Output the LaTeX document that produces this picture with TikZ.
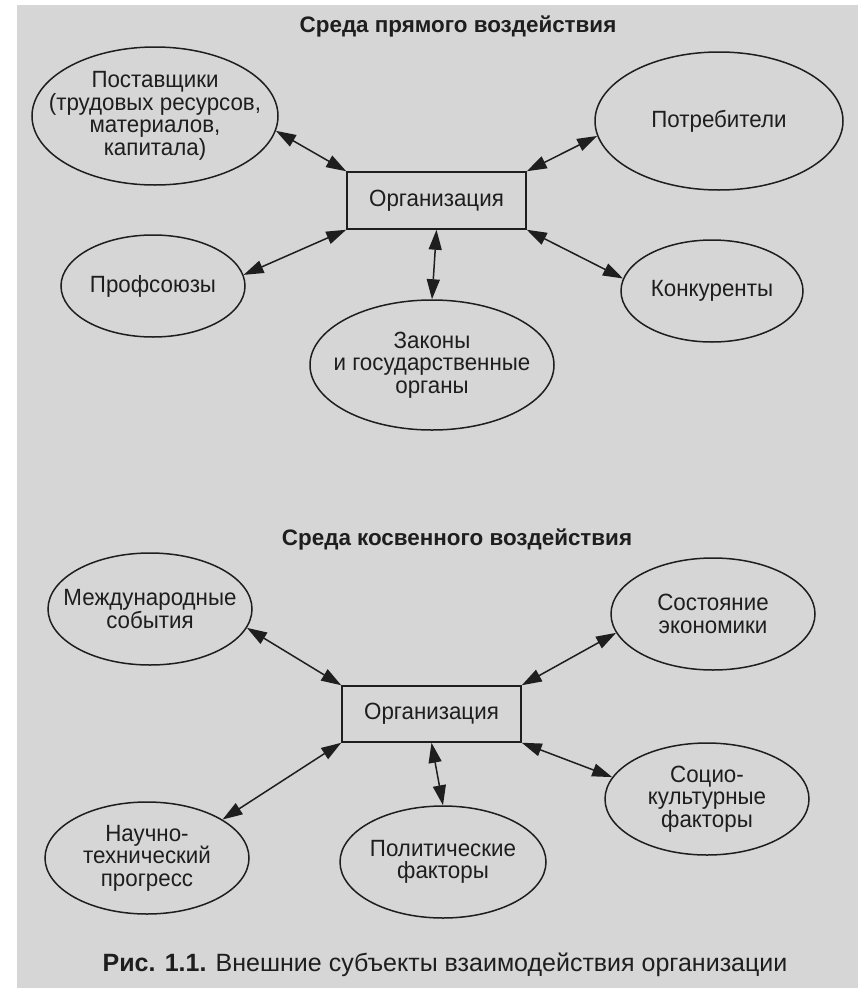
\documentclass[tikz,border=0pt]{standalone}
\usepackage{fontspec}
\setmainfont{Liberation Sans}
\newfontfamily\condfont{Liberation Sans}[FakeStretch=0.95]
\usetikzlibrary{arrows.meta,positioning,shapes.geometric}

\definecolor{paper}{RGB}{214,214,214}
\definecolor{ink}{RGB}{30,30,30}

\begin{document}
\begin{tikzpicture}[x=1pt, y=-1pt,
    elli/.style={ellipse, draw=ink, line width=1.5pt, inner xsep=-24pt, inner ysep=-6pt,
        align=center, text=ink, font=\condfont\fontsize{23.5}{22.5}\selectfont},
    orgbox/.style={rectangle, draw=ink, line width=1.5pt, inner sep=0pt,
        minimum width=179, minimum height=57, text=ink,
        font=\condfont\fontsize{23.5}{22.5}\selectfont},
    link/.style={{Triangle[length=20pt,width=13pt]}-{Triangle[length=20pt,width=13pt]},
        draw=ink, line width=1.5pt},
    heading/.style={text=ink, font=\bfseries\fontsize{22.4}{24}\selectfont}]
    \useasboundingbox (0,0) rectangle (858,988);
    % scanned page
    \fill[white] (0,0) rectangle (858,988);
    \fill[paper] (17,5) rectangle (858,988);

    % direct environment
    \node[heading] (title1) at (458,26) {Среда прямого воздействия};
    \node[orgbox] (org) at (436.5,200.5) {Организация};
    \node[elli, minimum width=246, minimum height=138] (supp) at (155,116)
        {Поставщики\\(трудовых ресурсов,\\материалов,\\капитала)};
    \node[elli, minimum width=248, minimum height=138] (cons) at (719,121) {Потребители};
    \node[elli, minimum width=184, minimum height=102] (unions) at (153,286) {Профсоюзы};
    \node[elli, minimum width=244, minimum height=130] (laws) at (432,365)
        {Законы\\и государственные\\органы};
    \node[elli, minimum width=182, minimum height=102] (rivals) at (712,291) {Конкуренты};

    \draw[link] (supp.-7) -- (org.north west);
    \draw[link] (cons.187) -- (org.north east);
    \draw[link] (unions.7) -- (org.south west);
    \draw[link] (rivals.172) -- (org.south east);
    \draw[link] (org.south) -- (laws.north);

    % indirect environment
    \node[heading] (title2) at (457,539) {Среда косвенного воздействия};
    \node[orgbox, minimum height=56] (org2) at (431.5,714) {Организация};
    \node[elli, minimum width=204, minimum height=112] (intl) at (150,609)
        {Международные\\события};
    \node[elli, minimum width=204, minimum height=112] (econ) at (713,614)
        {Состояние\\экономики};
    \node[elli, minimum width=204, minimum height=112] (tech) at (147,858)
        {Научно-\\технический\\прогресс};
    \node[elli, minimum width=206, minimum height=112] (pol) at (443,862)
        {Политические\\факторы};
    \node[elli, minimum width=204, minimum height=112] (soc) at (707,799)
        {Социо-\\культурные\\факторы};

    \draw[link] (intl.-11) -- (org2.north west);
    \draw[link] (econ.191) -- (org2.north east);
    \draw[link] (tech.27) -- (org2.south west);
    \draw[link] (soc.167) -- (org2.south east);
    \draw[link] (org2.south) -- (pol.north);

    \node[text=ink, font=\fontsize{25}{26}\selectfont] (caption) at (445,965)
        {\textbf{Рис. 1.1.} Внешние субъекты взаимодействия организации};
\end{tikzpicture}
\end{document}
